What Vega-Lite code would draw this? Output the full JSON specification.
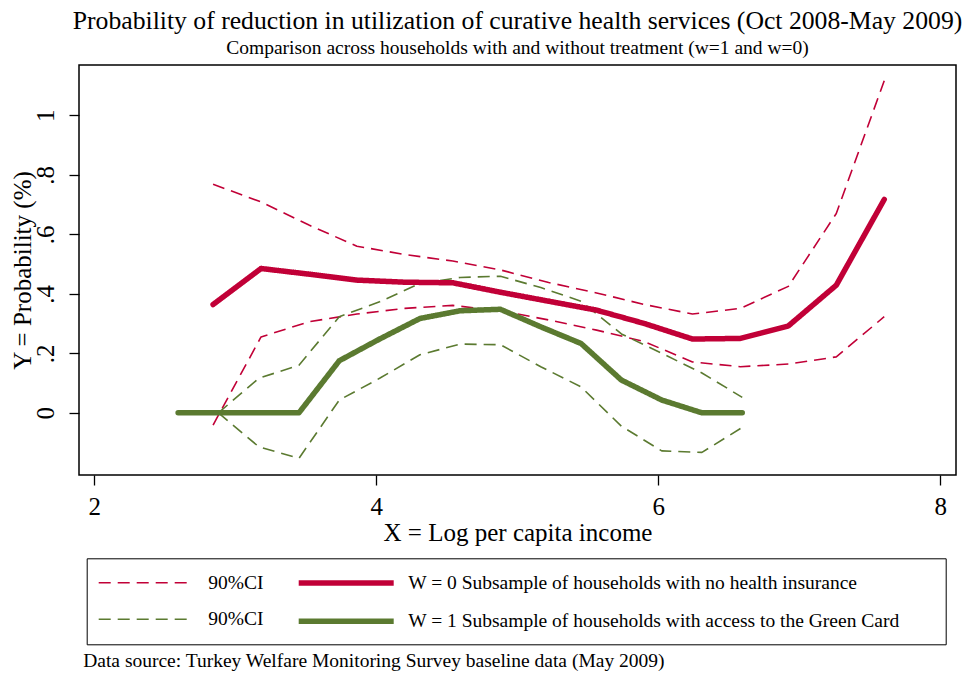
{
  "$schema": "https://vega.github.io/schema/vega-lite/v6.json",
  "autosize": "none",
  "width": 877,
  "height": 410,
  "padding": {"left": 79, "top": 65, "right": 6, "bottom": 199},
  "background": "white",
  "title": {
    "text": "Probability of reduction in utilization of curative health services (Oct 2008-May 2009)",
    "subtitle": "Comparison across households with and without treatment (w=1 and w=0)",
    "anchor": "middle",
    "frame": "group",
    "font": "Liberation Serif",
    "fontSize": 25.7,
    "fontWeight": "normal",
    "color": "black",
    "subtitleFont": "Liberation Serif",
    "subtitleFontSize": 19.5,
    "subtitleColor": "black",
    "subtitlePadding": 4,
    "offset": 7
  },
  "datasets": {
    "ci": [
      {"x": 2.842, "y": 0.768, "series": "90%CI (W = 0)", "line": "upper"},
      {"x": 3.182, "y": 0.709, "series": "90%CI (W = 0)", "line": "upper"},
      {"x": 3.522, "y": 0.631, "series": "90%CI (W = 0)", "line": "upper"},
      {"x": 3.862, "y": 0.560, "series": "90%CI (W = 0)", "line": "upper"},
      {"x": 4.202, "y": 0.532, "series": "90%CI (W = 0)", "line": "upper"},
      {"x": 4.542, "y": 0.510, "series": "90%CI (W = 0)", "line": "upper"},
      {"x": 4.882, "y": 0.480, "series": "90%CI (W = 0)", "line": "upper"},
      {"x": 5.222, "y": 0.438, "series": "90%CI (W = 0)", "line": "upper"},
      {"x": 5.562, "y": 0.403, "series": "90%CI (W = 0)", "line": "upper"},
      {"x": 5.902, "y": 0.364, "series": "90%CI (W = 0)", "line": "upper"},
      {"x": 6.242, "y": 0.332, "series": "90%CI (W = 0)", "line": "upper"},
      {"x": 6.582, "y": 0.351, "series": "90%CI (W = 0)", "line": "upper"},
      {"x": 6.922, "y": 0.425, "series": "90%CI (W = 0)", "line": "upper"},
      {"x": 7.262, "y": 0.670, "series": "90%CI (W = 0)", "line": "upper"},
      {"x": 7.602, "y": 1.116, "series": "90%CI (W = 0)", "line": "upper"},
      {"x": 2.842, "y": -0.041, "series": "90%CI (W = 0)", "line": "lower"},
      {"x": 3.182, "y": 0.255, "series": "90%CI (W = 0)", "line": "lower"},
      {"x": 3.522, "y": 0.306, "series": "90%CI (W = 0)", "line": "lower"},
      {"x": 3.862, "y": 0.332, "series": "90%CI (W = 0)", "line": "lower"},
      {"x": 4.202, "y": 0.351, "series": "90%CI (W = 0)", "line": "lower"},
      {"x": 4.542, "y": 0.361, "series": "90%CI (W = 0)", "line": "lower"},
      {"x": 4.882, "y": 0.343, "series": "90%CI (W = 0)", "line": "lower"},
      {"x": 5.222, "y": 0.312, "series": "90%CI (W = 0)", "line": "lower"},
      {"x": 5.562, "y": 0.278, "series": "90%CI (W = 0)", "line": "lower"},
      {"x": 5.902, "y": 0.239, "series": "90%CI (W = 0)", "line": "lower"},
      {"x": 6.242, "y": 0.171, "series": "90%CI (W = 0)", "line": "lower"},
      {"x": 6.582, "y": 0.155, "series": "90%CI (W = 0)", "line": "lower"},
      {"x": 6.922, "y": 0.164, "series": "90%CI (W = 0)", "line": "lower"},
      {"x": 7.262, "y": 0.188, "series": "90%CI (W = 0)", "line": "lower"},
      {"x": 7.602, "y": 0.323, "series": "90%CI (W = 0)", "line": "lower"},
      {"x": 2.880, "y": 0.000, "series": "90%CI (W = 1)", "line": "upper"},
      {"x": 3.166, "y": 0.116, "series": "90%CI (W = 1)", "line": "upper"},
      {"x": 3.451, "y": 0.160, "series": "90%CI (W = 1)", "line": "upper"},
      {"x": 3.737, "y": 0.323, "series": "90%CI (W = 1)", "line": "upper"},
      {"x": 4.023, "y": 0.373, "series": "90%CI (W = 1)", "line": "upper"},
      {"x": 4.309, "y": 0.435, "series": "90%CI (W = 1)", "line": "upper"},
      {"x": 4.595, "y": 0.455, "series": "90%CI (W = 1)", "line": "upper"},
      {"x": 4.880, "y": 0.459, "series": "90%CI (W = 1)", "line": "upper"},
      {"x": 5.166, "y": 0.421, "series": "90%CI (W = 1)", "line": "upper"},
      {"x": 5.452, "y": 0.375, "series": "90%CI (W = 1)", "line": "upper"},
      {"x": 5.738, "y": 0.265, "series": "90%CI (W = 1)", "line": "upper"},
      {"x": 6.024, "y": 0.200, "series": "90%CI (W = 1)", "line": "upper"},
      {"x": 6.309, "y": 0.134, "series": "90%CI (W = 1)", "line": "upper"},
      {"x": 6.595, "y": 0.052, "series": "90%CI (W = 1)", "line": "upper"},
      {"x": 2.880, "y": 0.000, "series": "90%CI (W = 1)", "line": "lower"},
      {"x": 3.166, "y": -0.114, "series": "90%CI (W = 1)", "line": "lower"},
      {"x": 3.451, "y": -0.153, "series": "90%CI (W = 1)", "line": "lower"},
      {"x": 3.737, "y": 0.043, "series": "90%CI (W = 1)", "line": "lower"},
      {"x": 4.023, "y": 0.116, "series": "90%CI (W = 1)", "line": "lower"},
      {"x": 4.309, "y": 0.195, "series": "90%CI (W = 1)", "line": "lower"},
      {"x": 4.595, "y": 0.231, "series": "90%CI (W = 1)", "line": "lower"},
      {"x": 4.880, "y": 0.229, "series": "90%CI (W = 1)", "line": "lower"},
      {"x": 5.166, "y": 0.155, "series": "90%CI (W = 1)", "line": "lower"},
      {"x": 5.452, "y": 0.087, "series": "90%CI (W = 1)", "line": "lower"},
      {"x": 5.738, "y": -0.045, "series": "90%CI (W = 1)", "line": "lower"},
      {"x": 6.024, "y": -0.128, "series": "90%CI (W = 1)", "line": "lower"},
      {"x": 6.309, "y": -0.133, "series": "90%CI (W = 1)", "line": "lower"},
      {"x": 6.595, "y": -0.049, "series": "90%CI (W = 1)", "line": "lower"}
    ],
    "main": [
      {"x": 2.842, "y": 0.364, "series": "W = 0 Subsample of households with no health insurance"},
      {"x": 3.182, "y": 0.485, "series": "W = 0 Subsample of households with no health insurance"},
      {"x": 3.522, "y": 0.466, "series": "W = 0 Subsample of households with no health insurance"},
      {"x": 3.862, "y": 0.446, "series": "W = 0 Subsample of households with no health insurance"},
      {"x": 4.202, "y": 0.439, "series": "W = 0 Subsample of households with no health insurance"},
      {"x": 4.542, "y": 0.437, "series": "W = 0 Subsample of households with no health insurance"},
      {"x": 4.882, "y": 0.405, "series": "W = 0 Subsample of households with no health insurance"},
      {"x": 5.222, "y": 0.375, "series": "W = 0 Subsample of households with no health insurance"},
      {"x": 5.562, "y": 0.345, "series": "W = 0 Subsample of households with no health insurance"},
      {"x": 5.902, "y": 0.300, "series": "W = 0 Subsample of households with no health insurance"},
      {"x": 6.242, "y": 0.248, "series": "W = 0 Subsample of households with no health insurance"},
      {"x": 6.582, "y": 0.250, "series": "W = 0 Subsample of households with no health insurance"},
      {"x": 6.922, "y": 0.292, "series": "W = 0 Subsample of households with no health insurance"},
      {"x": 7.262, "y": 0.429, "series": "W = 0 Subsample of households with no health insurance"},
      {"x": 7.602, "y": 0.717, "series": "W = 0 Subsample of households with no health insurance"},
      {"x": 2.594, "y": 0.000, "series": "W = 1 Subsample of households with access to the Green Card"},
      {"x": 2.880, "y": 0.000, "series": "W = 1 Subsample of households with access to the Green Card"},
      {"x": 3.166, "y": 0.000, "series": "W = 1 Subsample of households with access to the Green Card"},
      {"x": 3.451, "y": 0.000, "series": "W = 1 Subsample of households with access to the Green Card"},
      {"x": 3.737, "y": 0.175, "series": "W = 1 Subsample of households with access to the Green Card"},
      {"x": 4.023, "y": 0.248, "series": "W = 1 Subsample of households with access to the Green Card"},
      {"x": 4.309, "y": 0.317, "series": "W = 1 Subsample of households with access to the Green Card"},
      {"x": 4.595, "y": 0.343, "series": "W = 1 Subsample of households with access to the Green Card"},
      {"x": 4.880, "y": 0.348, "series": "W = 1 Subsample of households with access to the Green Card"},
      {"x": 5.166, "y": 0.289, "series": "W = 1 Subsample of households with access to the Green Card"},
      {"x": 5.452, "y": 0.233, "series": "W = 1 Subsample of households with access to the Green Card"},
      {"x": 5.738, "y": 0.110, "series": "W = 1 Subsample of households with access to the Green Card"},
      {"x": 6.024, "y": 0.043, "series": "W = 1 Subsample of households with access to the Green Card"},
      {"x": 6.309, "y": 0.000, "series": "W = 1 Subsample of households with access to the Green Card"},
      {"x": 6.595, "y": 0.000, "series": "W = 1 Subsample of households with access to the Green Card"}
    ]
  },
  "layer": [
    {
      "data": {"name": "ci"},
      "mark": {"type": "line", "strokeCap": "butt", "strokeJoin": "round"},
      "encoding": {
        "x": {
          "field": "x", "type": "quantitative",
          "scale": {"domain": [1.891, 8.111], "nice": false, "zero": false},
          "axis": {
            "values": [2, 4, 6, 8],
            "title": "X = Log per capita income",
            "titleY": 65,
            "titleBaseline": "alphabetic",
            "labelPadding": 9
          }
        },
        "y": {
          "field": "y", "type": "quantitative",
          "scale": {"domain": [-0.209, 1.169], "nice": false, "zero": false}
        },
        "detail": {"field": "line"},
        "color": {
          "field": "series", "type": "nominal",
          "sort": ["90%CI (W = 0)", "W = 0 Subsample of households with no health insurance", "90%CI (W = 1)", "W = 1 Subsample of households with access to the Green Card"],
          "scale": {
            "domain": ["90%CI (W = 0)", "W = 0 Subsample of households with no health insurance", "90%CI (W = 1)", "W = 1 Subsample of households with access to the Green Card"],
            "range": ["#C10037", "#C10037", "#5B7A30", "#5B7A30"]
          },
          "legend": {
            "title": null,
            "values": ["90%CI (W = 0)", "W = 0 Subsample of households with no health insurance", "90%CI (W = 1)", "W = 1 Subsample of households with access to the Green Card"],
            "labelExpr": "indexof(datum.label, '90%CI') == 0 ? '90%CI' : indexof(datum.label, 'W = 1') == 0 ? datum.label + '\u00a0\u00a0\u00a0\u00a0\u00a0\u00a0\u00a0\u200b' : datum.label"
          }
        },
        "strokeDash": {
          "field": "series", "type": "nominal",
          "sort": ["90%CI (W = 0)", "W = 0 Subsample of households with no health insurance", "90%CI (W = 1)", "W = 1 Subsample of households with access to the Green Card"],
          "scale": {
            "domain": ["90%CI (W = 0)", "W = 0 Subsample of households with no health insurance", "90%CI (W = 1)", "W = 1 Subsample of households with access to the Green Card"],
            "range": [[12, 7], [1, 0], [12, 7], [1, 0]]
          },
          "legend": {
            "title": null,
            "values": ["90%CI (W = 0)", "W = 0 Subsample of households with no health insurance", "90%CI (W = 1)", "W = 1 Subsample of households with access to the Green Card"],
            "labelExpr": "indexof(datum.label, '90%CI') == 0 ? '90%CI' : indexof(datum.label, 'W = 1') == 0 ? datum.label + '\u00a0\u00a0\u00a0\u00a0\u00a0\u00a0\u00a0\u200b' : datum.label"
          }
        },
        "strokeWidth": {
          "field": "series", "type": "ordinal",
          "sort": ["90%CI (W = 0)", "W = 0 Subsample of households with no health insurance", "90%CI (W = 1)", "W = 1 Subsample of households with access to the Green Card"],
          "scale": {
            "type": "ordinal",
            "domain": ["90%CI (W = 0)", "W = 0 Subsample of households with no health insurance", "90%CI (W = 1)", "W = 1 Subsample of households with access to the Green Card"],
            "range": [1.6, 5.5, 1.6, 5.5]
          },
          "legend": {
            "title": null,
            "values": ["90%CI (W = 0)", "W = 0 Subsample of households with no health insurance", "90%CI (W = 1)", "W = 1 Subsample of households with access to the Green Card"],
            "labelExpr": "indexof(datum.label, '90%CI') == 0 ? '90%CI' : indexof(datum.label, 'W = 1') == 0 ? datum.label + '\u00a0\u00a0\u00a0\u00a0\u00a0\u00a0\u00a0\u200b' : datum.label"
          }
        }
      }
    },
    {
      "data": {"name": "main"},
      "mark": {"type": "line", "strokeCap": "round", "strokeJoin": "round"},
      "encoding": {
        "x": {
          "field": "x", "type": "quantitative",
          "scale": {"domain": [1.891, 8.111], "nice": false, "zero": false},
          "axis": {
            "orient": "top",
            "title": "Data source: Turkey Welfare Monitoring Survey baseline data (May 2009)",
            "labels": false, "ticks": false, "domain": false, "grid": false,
            "titleX": 3.7, "titleY": 601,
            "titleAlign": "left", "titleAnchor": "start", "titleBaseline": "alphabetic",
            "titleFontSize": 19.5, "titleAngle": 0
          }
        },
        "y": {
          "field": "y", "type": "quantitative",
          "scale": {"domain": [-0.209, 1.169], "nice": false, "zero": false},
          "axis": {
            "values": [0, 0.2, 0.4, 0.6, 0.8, 1],
            "labelExpr": "datum.value == 0 || datum.value == 1 ? format(datum.value, 'd') : slice(format(datum.value, '.1f'), 1)",
            "labelAngle": -90,
            "labelAlign": "center",
            "labelBaseline": "alphabetic",
            "labelPadding": 16,
            "title": "Y = Probability (%)",
            "titleX": -49,
            "titleBaseline": "alphabetic",
            "titleAngle": -90
          }
        },
        "color": {
          "field": "series", "type": "nominal",
          "sort": ["90%CI (W = 0)", "W = 0 Subsample of households with no health insurance", "90%CI (W = 1)", "W = 1 Subsample of households with access to the Green Card"],
          "scale": {
            "domain": ["90%CI (W = 0)", "W = 0 Subsample of households with no health insurance", "90%CI (W = 1)", "W = 1 Subsample of households with access to the Green Card"],
            "range": ["#C10037", "#C10037", "#5B7A30", "#5B7A30"]
          },
          "legend": {
            "title": null,
            "values": ["90%CI (W = 0)", "W = 0 Subsample of households with no health insurance", "90%CI (W = 1)", "W = 1 Subsample of households with access to the Green Card"],
            "labelExpr": "indexof(datum.label, '90%CI') == 0 ? '90%CI' : indexof(datum.label, 'W = 1') == 0 ? datum.label + '\u00a0\u00a0\u00a0\u00a0\u00a0\u00a0\u00a0\u200b' : datum.label"
          }
        },
        "strokeDash": {
          "field": "series", "type": "nominal",
          "sort": ["90%CI (W = 0)", "W = 0 Subsample of households with no health insurance", "90%CI (W = 1)", "W = 1 Subsample of households with access to the Green Card"],
          "scale": {
            "domain": ["90%CI (W = 0)", "W = 0 Subsample of households with no health insurance", "90%CI (W = 1)", "W = 1 Subsample of households with access to the Green Card"],
            "range": [[12, 7], [1, 0], [12, 7], [1, 0]]
          },
          "legend": {
            "title": null,
            "values": ["90%CI (W = 0)", "W = 0 Subsample of households with no health insurance", "90%CI (W = 1)", "W = 1 Subsample of households with access to the Green Card"],
            "labelExpr": "indexof(datum.label, '90%CI') == 0 ? '90%CI' : indexof(datum.label, 'W = 1') == 0 ? datum.label + '\u00a0\u00a0\u00a0\u00a0\u00a0\u00a0\u00a0\u200b' : datum.label"
          }
        },
        "strokeWidth": {
          "field": "series", "type": "ordinal",
          "sort": ["90%CI (W = 0)", "W = 0 Subsample of households with no health insurance", "90%CI (W = 1)", "W = 1 Subsample of households with access to the Green Card"],
          "scale": {
            "type": "ordinal",
            "domain": ["90%CI (W = 0)", "W = 0 Subsample of households with no health insurance", "90%CI (W = 1)", "W = 1 Subsample of households with access to the Green Card"],
            "range": [1.6, 5.5, 1.6, 5.5]
          },
          "legend": {
            "title": null,
            "values": ["90%CI (W = 0)", "W = 0 Subsample of households with no health insurance", "90%CI (W = 1)", "W = 1 Subsample of households with access to the Green Card"],
            "labelExpr": "indexof(datum.label, '90%CI') == 0 ? '90%CI' : indexof(datum.label, 'W = 1') == 0 ? datum.label + '\u00a0\u00a0\u00a0\u00a0\u00a0\u00a0\u00a0\u200b' : datum.label"
          }
        }
      }
    }
  ],
  "resolve": {"scale": {"x": "independent"}, "axis": {"x": "independent"}},
  "config": {
    "view": {"stroke": "black", "strokeWidth": 1.5},
    "font": "Liberation Serif",
    "axis": {
      "domain": false,
      "grid": false,
      "ticks": true,
      "tickSize": 10,
      "tickColor": "black",
      "tickWidth": 1.3,
      "labelFont": "Liberation Serif",
      "labelFontSize": 25,
      "labelColor": "black",
      "titleFont": "Liberation Serif",
      "titleFontSize": 25,
      "titleFontWeight": "normal",
      "titleColor": "black"
    },
    "legend": {
      "orient": "none",
      "legendX": 7.7,
      "legendY": 493.3,
      "direction": "horizontal",
      "columns": 2,
      "strokeColor": "black",
      "padding": 12,
      "labelFont": "Liberation Serif",
      "labelFontSize": 19.5,
      "labelColor": "black",
      "labelLimit": 0,
      "symbolType": "M0,0H10",
      "symbolSize": 361,
      "symbolOffset": -12.5,
      "labelOffset": 97,
      "rowPadding": 14.5,
      "columnPadding": 24,
      "gridAlign": "each"
    }
  }
}
